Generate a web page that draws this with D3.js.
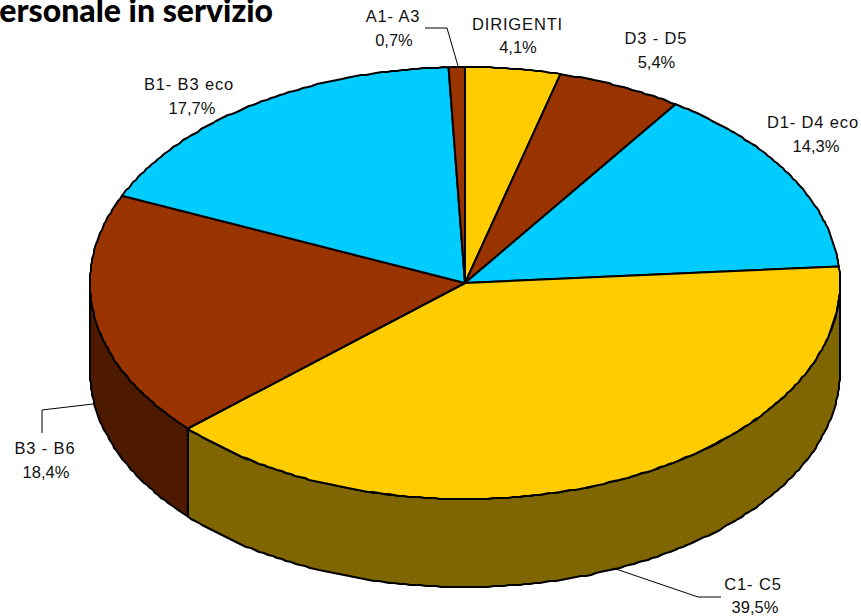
<!DOCTYPE html>
<html><head><meta charset="utf-8">
<script src="https://cdn.jsdelivr.net/npm/d3@7/dist/d3.min.js"></script>
<style>html,body{margin:0;padding:0;background:#fff}svg{display:block}</style>
</head><body>
<svg id="c" width="861" height="616"></svg>
<script>
const categories = ["DIRIGENTI","D3 - D5","D1- D4 eco","C1- C5","B3 - B6","B1- B3 eco","A1- A3"];
const values = [4.1,5.4,14.3,39.5,18.4,17.7,0.7];
const valueLabels = ["4,1%","5,4%","14,3%","39,5%","18,4%","17,7%","0,7%"];
const colorNames = ["yellow","brown","blue","yellow","brown","blue","brown"];
const titleText = "Personale in servizio";

const topColors = {yellow:"#FFCC00",brown:"#993300",blue:"#00CCFF"};
const sideColors = {yellow:"#806600",brown:"#4D1A00",blue:"#006680"};
const geom = {cx:465,cy:283,rx:375,ry:216,depth:88};
const namePos = [[517.5,30],[656,44],[813,128],[753,590],[45,454],[189,90],[393,22]];
const valuePos = [[518,53],[656.5,68],[816,152],[755,613],[46,478],[192,114],[394,46]];
const leaders = {3:[[613,568],[698,597],[721,597]],4:[[93,404],[42,410],[42,433]],6:[[425,28],[447,28],[458,66]]};

const svg = d3.select("#c");
const sx = d3.scaleLinear().domain([-1,1]).range([geom.cx-geom.rx,geom.cx+geom.rx]);
const sy = d3.scaleLinear().domain([-1,1]).range([geom.cy+geom.ry,geom.cy-geom.ry]);
const arcs = d3.pie().sort(null).value(d=>d)(values);
const ptX = a=>sx(Math.sin(a)), ptY = a=>sy(Math.cos(a));
const line = d3.line();
const STEP = 0.014;
function rimPoints(a0,a1,dy=0){
  const n = Math.max(2,Math.ceil((a1-a0)/STEP));
  return d3.range(n+1).map(i=>{const a=a0+(a1-a0)*i/n;
    const edge=i===0||i===n;
    return edge?[ptX(a),ptY(a)+dy]:[Math.round(ptX(a)),Math.round(ptY(a)+dy)];});
}
const PI=Math.PI;
arcs.forEach((d,i)=>{
  const a0=Math.max(d.startAngle,PI/2), a1=Math.min(d.endAngle,3*PI/2);
  if(a1<=a0) return;
  const pts=[...rimPoints(a0,a1),...rimPoints(a0,a1,geom.depth).reverse()];
  svg.append("path").attr("d",line(pts)+"Z")
    .attr("fill",sideColors[colorNames[i]])
    .attr("stroke","#000").attr("stroke-width",2).attr("stroke-linejoin","round");
});
arcs.forEach((d,i)=>{
  const pts=[[sx(0),sy(0)],...rimPoints(d.startAngle,d.endAngle)];
  svg.append("path").attr("d",line(pts)+"Z")
    .attr("fill",topColors[colorNames[i]])
    .attr("stroke","#000").attr("stroke-width",2).attr("stroke-linejoin","round");
});
Object.values(leaders).forEach(p=>{
  svg.append("path").attr("d",line(p)).attr("fill","none").attr("stroke","#000").attr("stroke-width",1);
});
const font="'Liberation Sans',Arial,sans-serif";
categories.forEach((c,i)=>{
  svg.append("text").attr("text-anchor","middle").attr("font-family",font).attr("font-size",16.5)
    .attr("letter-spacing",0.85).attr("fill","#111").attr("x",namePos[i][0]).attr("y",namePos[i][1]).text(c);
  svg.append("text").attr("text-anchor","middle").attr("font-family",font).attr("font-size",16.5)
    .attr("fill","#111").attr("x",valuePos[i][0]).attr("y",valuePos[i][1]).text(valueLabels[i]);
});
svg.append("text").attr("x",-20).attr("y",22)
  .attr("font-family","Lato,sans-serif").attr("font-weight",900).attr("font-size",32).attr("fill","#000")
  .text(titleText);
</script>
</body></html>
